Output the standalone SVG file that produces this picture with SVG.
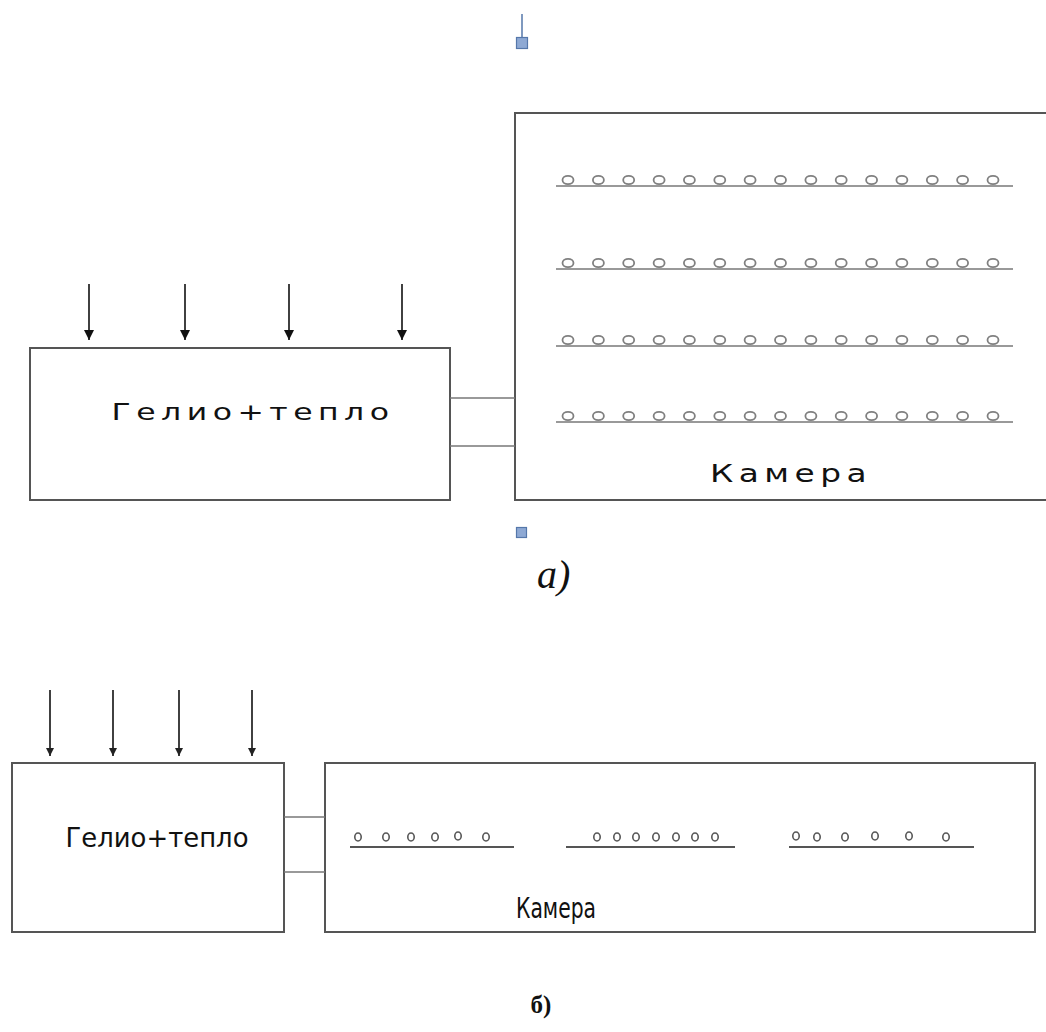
<svg xmlns="http://www.w3.org/2000/svg" width="1046" height="1032" viewBox="0 0 1046 1032">
<style>
.box{fill:#fff;stroke:#555;stroke-width:2}
.conn{stroke:#777;stroke-width:1.5;fill:none}
.arr{stroke:#111;stroke-width:1.6;fill:none}
.row{stroke:#999;stroke-width:2}
.row2{stroke:#555;stroke-width:2}
.c{fill:#fff;stroke:#808080;stroke-width:1.8}
.c2{fill:#fff;stroke:#555;stroke-width:1.6}
.t{font-family:"DejaVu Sans","Liberation Sans",sans-serif;fill:#111}
.hnd{fill:#8ea9d4;stroke:#5577aa;stroke-width:1.2}
</style>
<defs>
<marker id="ah" viewBox="0 0 10 10" refX="10" refY="5" markerWidth="18" markerHeight="10" markerUnits="userSpaceOnUse" orient="auto">
<path d="M0,0 L10,5 L0,10 z" fill="#111"/>
</marker>
<marker id="ah2" viewBox="0 0 10 10" refX="10" refY="5" markerWidth="16" markerHeight="8" markerUnits="userSpaceOnUse" orient="auto">
<path d="M0,0 L10,5 L0,10 z" fill="#222"/>
</marker>
</defs>
<g id="handles">
<line x1="522" y1="14" x2="522" y2="37" stroke="#5577aa" stroke-width="1.5"/>
<rect class="hnd" x="516.5" y="37.5" width="11" height="11"/>
<rect class="hnd" x="516.5" y="527.5" width="10" height="10"/>
</g>
<g id="a-chamber">
<rect class="box" x="515" y="113" width="540" height="387"/>
<g id="a-rows">
<line class="row" x1="556" y1="186" x2="1013" y2="186"/>
<line class="row" x1="556" y1="269" x2="1013" y2="269"/>
<line class="row" x1="556" y1="346" x2="1013" y2="346"/>
<line class="row" x1="556" y1="422" x2="1013" y2="422"/>
</g>
<g id="a-circles">
<g id="r1">
<ellipse class="c" cx="568" cy="180" rx="5.5" ry="4.2"/><ellipse class="c" cx="598.4" cy="180" rx="5.5" ry="4.2"/><ellipse class="c" cx="628.7" cy="180" rx="5.5" ry="4.2"/><ellipse class="c" cx="659.1" cy="180" rx="5.5" ry="4.2"/><ellipse class="c" cx="689.4" cy="180" rx="5.5" ry="4.2"/><ellipse class="c" cx="719.8" cy="180" rx="5.5" ry="4.2"/><ellipse class="c" cx="750.1" cy="180" rx="5.5" ry="4.2"/><ellipse class="c" cx="780.5" cy="180" rx="5.5" ry="4.2"/><ellipse class="c" cx="810.9" cy="180" rx="5.5" ry="4.2"/><ellipse class="c" cx="841.2" cy="180" rx="5.5" ry="4.2"/><ellipse class="c" cx="871.6" cy="180" rx="5.5" ry="4.2"/><ellipse class="c" cx="901.9" cy="180" rx="5.5" ry="4.2"/><ellipse class="c" cx="932.3" cy="180" rx="5.5" ry="4.2"/><ellipse class="c" cx="962.6" cy="180" rx="5.5" ry="4.2"/><ellipse class="c" cx="993" cy="180" rx="5.5" ry="4.2"/>
</g>
<use href="#r1" y="83"/>
<use href="#r1" y="160"/>
<use href="#r1" y="236"/>
</g>
<text class="t" x="791" y="482" font-size="24" letter-spacing="4" text-anchor="middle" textLength="162" lengthAdjust="spacingAndGlyphs">Камера</text>
</g>
<g id="a-source">
<rect class="box" x="30" y="348" width="420" height="152"/>
<text class="t" x="253" y="420" font-size="23" letter-spacing="4" text-anchor="middle" textLength="283" lengthAdjust="spacingAndGlyphs">Гелио+тепло</text>
</g>
<g id="a-connectors">
<line class="conn" x1="450" y1="398" x2="515" y2="398"/>
<line class="conn" x1="450" y1="446" x2="515" y2="446"/>
<line class="arr" x1="89" y1="284" x2="89" y2="340" marker-end="url(#ah)"/>
<line class="arr" x1="185" y1="284" x2="185" y2="340" marker-end="url(#ah)"/>
<line class="arr" x1="289" y1="284" x2="289" y2="340" marker-end="url(#ah)"/>
<line class="arr" x1="402" y1="284" x2="402" y2="340" marker-end="url(#ah)"/>
</g>
<text x="537" y="588" font-family="Liberation Serif, serif" font-style="italic" font-size="40" fill="#111">а)</text>
<g id="b-source">
<rect class="box" x="12" y="763" width="272" height="169"/>
<text class="t" x="157" y="847" font-size="27" text-anchor="middle" textLength="183" lengthAdjust="spacingAndGlyphs">Гелио+тепло</text>
</g>
<g id="b-chamber">
<rect class="box" x="325" y="763" width="710" height="169"/>
<line class="row2" x1="350" y1="847" x2="514" y2="847"/>
<line class="row2" x1="566" y1="847" x2="735" y2="847"/>
<line class="row2" x1="789" y1="847" x2="974" y2="847"/>
<g id="b-circles">
<ellipse class="c2" cx="358" cy="837" rx="3.2" ry="4"/><ellipse class="c2" cx="386" cy="837" rx="3.2" ry="4"/><ellipse class="c2" cx="411" cy="837" rx="3.2" ry="4"/><ellipse class="c2" cx="435" cy="837" rx="3.2" ry="4"/><ellipse class="c2" cx="458" cy="836" rx="3.2" ry="4"/><ellipse class="c2" cx="486" cy="837" rx="3.2" ry="4"/>
<ellipse class="c2" cx="597" cy="837" rx="3.2" ry="4"/><ellipse class="c2" cx="617" cy="837" rx="3.2" ry="4"/><ellipse class="c2" cx="636" cy="837" rx="3.2" ry="4"/><ellipse class="c2" cx="656" cy="837" rx="3.2" ry="4"/><ellipse class="c2" cx="676" cy="837" rx="3.2" ry="4"/><ellipse class="c2" cx="695" cy="837" rx="3.2" ry="4"/><ellipse class="c2" cx="715" cy="837" rx="3.2" ry="4"/>
<ellipse class="c2" cx="796" cy="836" rx="3.2" ry="4"/><ellipse class="c2" cx="817" cy="837" rx="3.2" ry="4"/><ellipse class="c2" cx="845" cy="837" rx="3.2" ry="4"/><ellipse class="c2" cx="875" cy="836" rx="3.2" ry="4"/><ellipse class="c2" cx="909" cy="836" rx="3.2" ry="4"/><ellipse class="c2" cx="946" cy="837" rx="3.2" ry="4"/>
</g>
<text class="t" x="556" y="918" font-size="28" text-anchor="middle" textLength="80" lengthAdjust="spacingAndGlyphs">Камера</text>
</g>
<g id="b-connectors">
<line class="conn" x1="284" y1="817" x2="325" y2="817"/>
<line class="conn" x1="284" y1="872" x2="325" y2="872"/>
<line class="arr" x1="50" y1="690" x2="50" y2="756" marker-end="url(#ah2)"/>
<line class="arr" x1="113" y1="690" x2="113" y2="756" marker-end="url(#ah2)"/>
<line class="arr" x1="179" y1="690" x2="179" y2="756" marker-end="url(#ah2)"/>
<line class="arr" x1="252" y1="690" x2="252" y2="756" marker-end="url(#ah2)"/>
</g>
<text x="541" y="1013" font-family="Liberation Serif, serif" font-weight="bold" font-size="25" text-anchor="middle" fill="#111">б)</text>
</svg>
